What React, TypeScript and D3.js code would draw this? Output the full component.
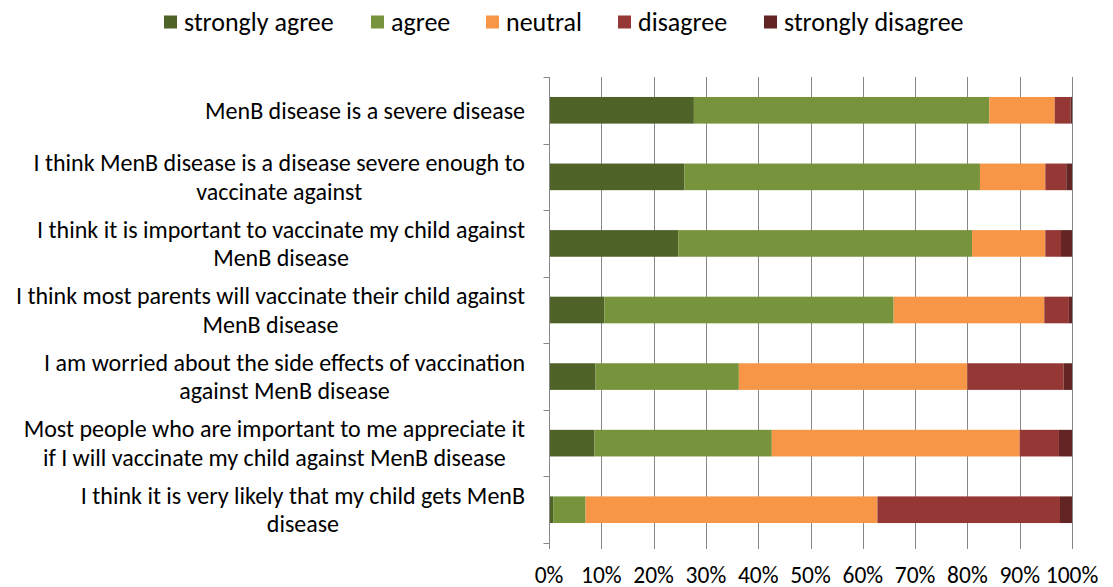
import { useEffect, useRef } from 'react';
import * as d3 from 'd3';

// Survey statements, wrapped the same way as the reference
const categories: string[][] = [
  ['MenB disease is a severe disease'],
  ['I think MenB disease is a disease severe enough to', 'vaccinate against'],
  ['I think it is important to vaccinate my child against', 'MenB disease'],
  ['I think most parents will vaccinate their child against', 'MenB disease'],
  ['I am worried about the side effects of vaccination', 'against MenB disease'],
  ['Most people who are important to me appreciate it', 'if I will vaccinate my child against MenB disease'],
  ['I think it is very likely that my child gets MenB', 'disease'],
];

const seriesNames = ['strongly agree', 'agree', 'neutral', 'disagree', 'strongly disagree'];
const seriesColors = ['#4F6228', '#77933C', '#F79646', '#953735', '#632523'];

const stronglyAgree = [27.7, 25.9, 24.7, 10.6, 8.9, 8.7, 0.8];
const agree = [56.5, 56.5, 56.2, 55.3, 27.4, 33.9, 6.2];
const neutral = [12.5, 12.5, 14.0, 28.8, 43.7, 47.4, 55.8];
const disagree = [3.0, 4.0, 3.0, 4.7, 18.4, 7.5, 34.9];
const stronglyDisagree = [0.3, 1.1, 2.1, 0.6, 1.6, 2.5, 2.3];

const xTicks = [0, 10, 20, 30, 40, 50, 60, 70, 80, 90, 100];

const W = 1113;
const H = 587;
const FONT = 'Carlito, Lato, "Open Sans", sans-serif';

export default function App() {
  const svgRef = useRef<SVGSVGElement>(null);

  useEffect(() => {
    if (!svgRef.current) return;
    const svg = d3.select(svgRef.current);
    svg.selectAll('*').remove();

    const plot = { left: 549, right: 1072, top: 77, bottom: 543 };

    const rows = categories.map((lines, i) => ({
      key: String(i),
      lines,
      values: [stronglyAgree[i], agree[i], neutral[i], disagree[i], stronglyDisagree[i]],
    }));

    const x = d3.scaleLinear().domain([0, 100]).range([plot.left, plot.right]);
    const y = d3
      .scaleBand<string>()
      .domain(rows.map((r) => r.key))
      .range([plot.top, plot.bottom])
      .paddingInner(0.6)
      .paddingOuter(0.3);

    const stack = d3
      .stack<any>()
      .keys(seriesNames.map((_, j) => String(j)))
      .value((d, key) => d.values[+key]);
    const layers = stack(rows);

    // gridlines (extend below as tick marks)
    svg
      .append('g')
      .selectAll('line')
      .data(xTicks.slice(1))
      .join('line')
      .attr('x1', (d) => Math.round(x(d)) + 0.5)
      .attr('x2', (d) => Math.round(x(d)) + 0.5)
      .attr('y1', plot.top)
      .attr('y2', plot.bottom + 6)
      .attr('stroke', '#878787')
      .attr('stroke-width', 1);

    // bars
    svg
      .append('g')
      .selectAll('g')
      .data(layers)
      .join('g')
      .attr('fill', (_d, j) => seriesColors[j])
      .selectAll('rect')
      .data((d) => d)
      .join('rect')
      .attr('x', (d) => x(d[0]))
      .attr('width', (d) => Math.max(0, x(d[1]) - x(d[0])))
      .attr('y', (d) => y(d.data.key)!)
      .attr('height', y.bandwidth());

    // left axis with tick marks at band boundaries
    const ax = Math.round(x(0)) + 0.5;
    const axis = svg.append('g').attr('stroke', '#878787').attr('stroke-width', 1);
    axis
      .append('line')
      .attr('x1', ax)
      .attr('x2', ax)
      .attr('y1', plot.top)
      .attr('y2', plot.bottom + 6);
    const step = (plot.bottom - plot.top) / rows.length;
    axis
      .selectAll('line.tick')
      .data(d3.range(rows.length + 1))
      .join('line')
      .attr('class', 'tick')
      .attr('x1', ax - 6)
      .attr('x2', ax)
      .attr('y1', (i) => Math.round(plot.top + i * step) + 0.5)
      .attr('y2', (i) => Math.round(plot.top + i * step) + 0.5);

    // x tick labels
    svg
      .append('g')
      .selectAll('text')
      .data(xTicks)
      .join('text')
      .attr('x', (d) => x(d))
      .attr('y', 583)
      .attr('text-anchor', 'middle')
      .attr('font-family', FONT)
      .attr('font-size', 23.5)
      .attr('fill', '#000')
      .text((d) => `${d}%`);

    // category labels: block right-aligned, lines centred inside block
    const labelRight = 525;
    const lineH = 28.5;
    const labels = svg.append('g').attr('font-family', FONT).attr('font-size', 24).attr('fill', '#000');
    rows.forEach((r) => {
      const cy = y(r.key)! + y.bandwidth() / 2;
      const g = labels.append('g');
      const texts = g
        .selectAll('text')
        .data(r.lines)
        .join('text')
        .attr('text-anchor', 'middle')
        .attr('dy', '0.35em')
        .attr('y', (_d, k) => cy + (k - (r.lines.length - 1) / 2) * lineH)
        .text((d) => d);
      let maxW = 0;
      texts.each(function () {
        maxW = Math.max(maxW, (this as SVGTextElement).getComputedTextLength());
      });
      texts.attr('x', labelRight - maxW / 2);
    });

    // legend
    const legendX = [164, 371, 486, 618, 764];
    const legend = svg
      .append('g')
      .selectAll('g')
      .data(seriesNames)
      .join('g')
      .attr('transform', (_d, j) => `translate(${legendX[j]},22)`);
    legend
      .append('rect')
      .attr('x', 0)
      .attr('y', -6.5)
      .attr('width', 13)
      .attr('height', 13)
      .attr('fill', (_d, j) => seriesColors[j]);
    legend
      .append('text')
      .attr('x', 20)
      .attr('dy', '0.35em')
      .attr('font-family', FONT)
      .attr('font-size', 26)
      .attr('fill', '#000')
      .text((d) => d);
  }, []);

  return (
    <svg
      ref={svgRef}
      width={W}
      height={H}
      style={{ display: 'block', position: 'absolute', left: 0, top: 0, background: '#fff' }}
    />
  );
}
